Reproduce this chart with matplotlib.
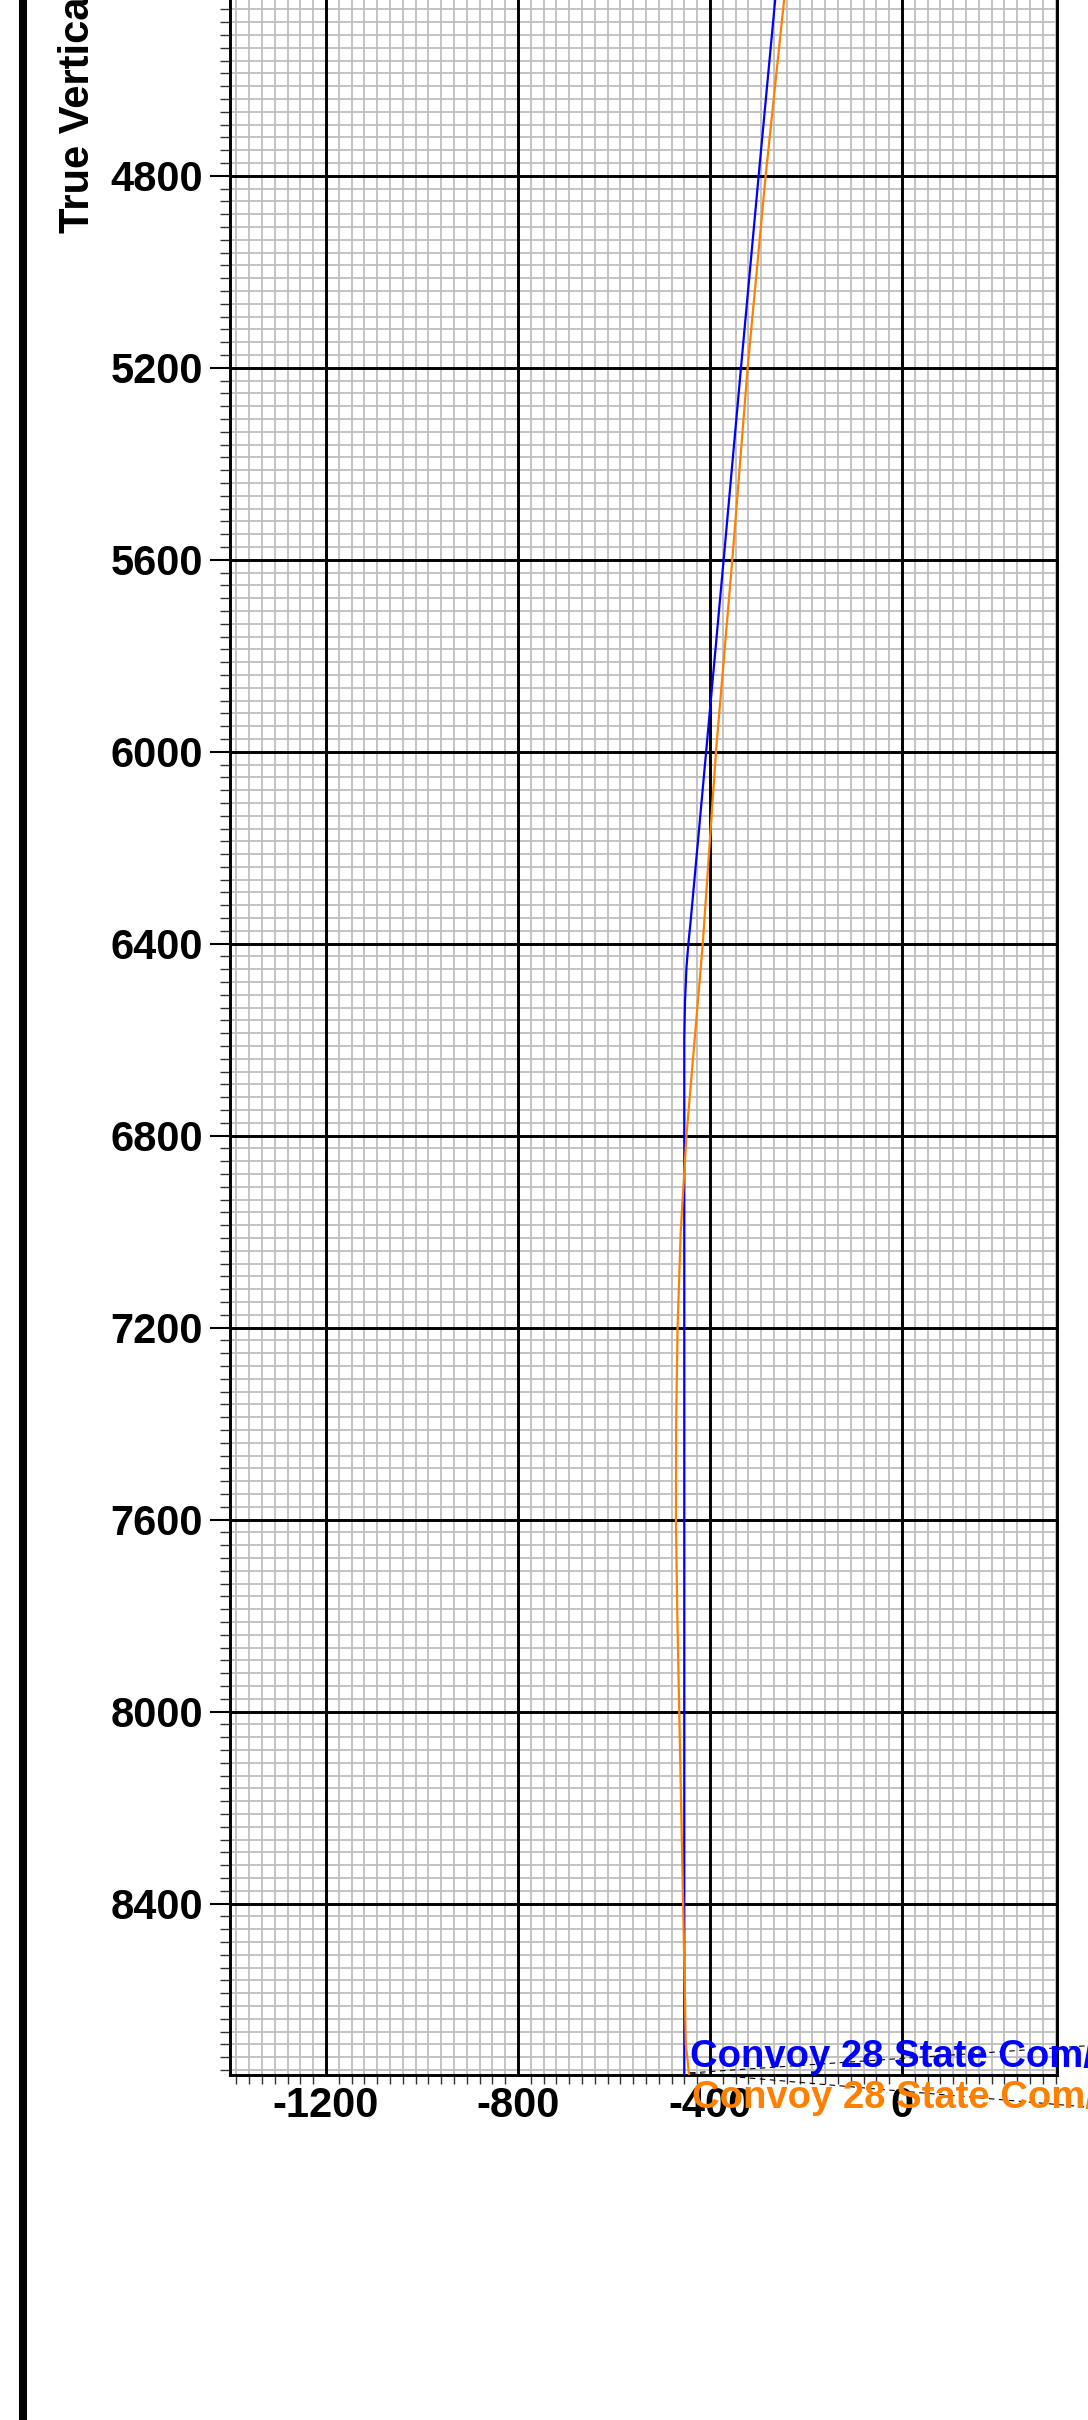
import matplotlib
matplotlib.use("Agg")
from matplotlib import pyplot as plt
from matplotlib.ticker import MultipleLocator
from matplotlib.lines import Line2D

plt.rcParams['font.family'] = ['Liberation Sans', 'DejaVu Sans']
plt.rcParams['font.weight'] = 'bold'
plt.rcParams['axes.unicode_minus'] = False

# well paths: true vertical depth (ft) vs horizontal section (ft)
blue_tvd = [4400, 4800, 5200, 5600, 6000, 6350, 6400, 6450, 6520, 6600, 6800, 7200, 7600, 8000, 8400, 8757]
blue_vs = [-261, -298.6, -335.4, -371.5, -408, -440, -445, -449, -452, -453.5, -453.5, -453.5, -453.5, -453.5, -453.5, -453.5]

orange_tvd = [4400, 4800, 5200, 5600, 6000, 6400, 6600, 6800, 7000, 7200, 7400, 7600, 7800, 8000, 8200, 8400, 8600, 8690, 8757]
orange_vs = [-242, -284, -321.5, -353.5, -387.5, -415, -432, -449, -461, -467.5, -470.5, -471, -468, -464, -460, -456, -452, -450.5, -443.5]

well_names = ["Convoy 28 State Com/1H", "Convoy 28 State Com/2H"]
well_colors = ["#0000ff", "#ff8000"]

x0, x1 = -1400, 323
y_top, y_bot = 4420, 8757

W, H = 1088, 2420
fig = plt.figure(figsize=(W / 100, H / 100), dpi=100)

# axes placed in pixels, equal scale on both axes
left_px, right_px, bottom_px = 230, 1057, 2075
scale = (right_px - left_px) / (x1 - x0)
top_px = bottom_px - (y_bot - y_top) * scale
ax = fig.add_axes([left_px / W, 1 - bottom_px / H, (right_px - left_px) / W, (bottom_px - top_px) / H])

ax.set_xlim(x0, x1)
ax.set_ylim(y_bot, y_top)

ax.xaxis.set_major_locator(MultipleLocator(400))
ax.yaxis.set_major_locator(MultipleLocator(400))
ax.xaxis.set_minor_locator(MultipleLocator(400 / 15))
ax.yaxis.set_minor_locator(MultipleLocator(400 / 15))

# light minor grid, black major lines drawn on top of it
ax.set_axisbelow(True)
ax.grid(which='minor', color='#bebebe', lw=1.3)
for xv in ax.get_xticks():
    if x0 < xv < x1:
        ax.axvline(xv, color='black', lw=2.1, zorder=0.8)
for yv in ax.get_yticks():
    if y_top < yv < y_bot:
        ax.axhline(yv, color='black', lw=2.1, zorder=0.8)

for s in ax.spines.values():
    s.set_linewidth(2.1)

ax.tick_params(axis='y', which='major', length=14.4, width=1.5, pad=5, labelsize=30)
ax.tick_params(axis='y', which='minor', length=7, width=1, color='#333333')
ax.tick_params(axis='x', which='major', length=0, pad=8, labelsize=30)
ax.tick_params(axis='x', which='minor', length=6.5, width=1, color='#333333')

ax.plot(blue_vs, blue_tvd, color=well_colors[0], lw=1.6, zorder=3)
ax.plot(orange_vs, orange_tvd, color=well_colors[1], lw=1.6, zorder=3)

# dashed leader lines to the well labels
lx = (690 - 902) / 0.48
ly = 4800 + (2073 - 175.7) / 0.48
ax.plot([lx, 620.8], [ly, 8680], color='black', lw=0.8, ls=(0, (5, 4)), clip_on=False, zorder=4)
ax.plot([lx, 620.8], [ly, 8844], color='black', lw=0.8, ls=(0, (5, 4)), clip_on=False, zorder=4)

ax.annotate(well_names[0], xy=(blue_vs[-1], blue_tvd[-1]), xytext=(4.1, 5.8), textcoords='offset points',
            color=well_colors[0], fontsize=27.5, fontweight='bold', ha='left', va='baseline',
            annotation_clip=False, zorder=5)
ax.annotate(well_names[1], xy=(orange_vs[-1], orange_tvd[-1]), xytext=(2.2, -23.8), textcoords='offset points',
            color=well_colors[1], fontsize=27.5, fontweight='bold', ha='left', va='baseline',
            annotation_clip=False, zorder=5)

fig.text(78 / W, 1 - 233 / H, "True Vertical Depth (ft)", rotation=90, ha='center', va='bottom',
         fontsize=30, fontweight='bold')

# page border on the left
fig.add_artist(Line2D([23 / W, 23 / W], [0, 1], color='black', lw=5.8, transform=fig.transFigure))

fig.savefig("out.png", dpi=100)
